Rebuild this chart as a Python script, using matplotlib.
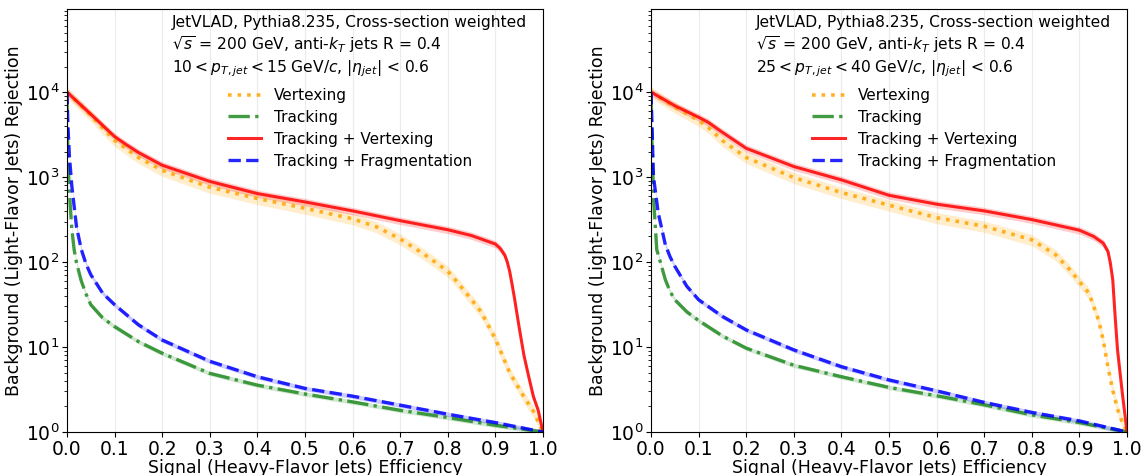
import matplotlib
matplotlib.use("Agg")
import matplotlib.pyplot as plt

plt.rc("font", family="DejaVu Sans", size=12)

# efficiency grids and rejection values, low pT bin (10-15 GeV/c)
lo_eff_vtx = [0.0, 0.05, 0.1, 0.15, 0.2, 0.3, 0.4, 0.5, 0.6, 0.65, 0.7, 0.75, 0.8,
              0.82, 0.85, 0.87, 0.9, 0.93, 0.96, 0.98, 1.0]
lo_vtx = [1e4, 5300, 2700, 1700, 1200, 760, 560, 430, 323, 260, 187, 124, 78,
          58, 36, 26, 12.5, 5.0, 2.6, 1.75, 1.0]

lo_eff_trk = [0.0, 0.001, 0.003, 0.005, 0.01, 0.015, 0.02, 0.03, 0.04, 0.05, 0.075,
              0.1, 0.15, 0.2, 0.3, 0.4, 0.5, 0.6, 0.7, 0.8, 0.9, 1.0]
lo_trk = [1e4, 3000, 1200, 670, 250, 140, 98, 60, 42, 31.5, 22,
          17.4, 11.6, 8.45, 4.9, 3.56, 2.8, 2.26, 1.80, 1.48, 1.2, 1.0]

lo_eff_comb = [0.0, 0.05, 0.1, 0.125, 0.15, 0.2, 0.3, 0.4, 0.5, 0.6, 0.7, 0.8, 0.85,
               0.9, 0.91, 0.92, 0.925, 0.93, 0.935, 0.94, 0.95, 0.96, 0.97, 0.98,
               0.99, 1.0]
lo_comb = [1e4, 5500, 3000, 2400, 1950, 1380, 890, 640, 510, 400, 307, 240, 205,
           163, 145, 120, 100, 78, 55, 38, 17, 8, 4.5, 2.6,
           1.8, 1.0]

lo_eff_frag = [0.0, 0.002, 0.005, 0.01, 0.02, 0.03, 0.04, 0.05, 0.075, 0.1, 0.15,
               0.2, 0.3, 0.4, 0.5, 0.6, 0.7, 0.8, 0.9, 1.0]
lo_frag = [1e4, 4000, 1800, 800, 260, 141, 95, 71, 43, 31.5, 18.3,
           12.1, 6.8, 4.47, 3.26, 2.64, 2.07, 1.62, 1.29, 1.0]

# high pT bin (25-40 GeV/c)
hi_eff_vtx = [0.0, 0.05, 0.1, 0.12, 0.15, 0.2, 0.3, 0.4, 0.5, 0.6, 0.7, 0.8, 0.85,
              0.88, 0.9, 0.92, 0.93, 0.94, 0.95, 0.96, 0.97, 0.98, 0.99, 1.0]
hi_vtx = [1e4, 6650, 4630, 3850, 2690, 1700, 986, 658, 467, 333, 264, 183, 122,
          81, 59, 43, 30, 21, 12, 5.8, 3.1, 1.86, 1.3, 1.0]

hi_eff_trk = [0.0, 0.001, 0.002, 0.005, 0.012, 0.02, 0.03, 0.04, 0.05, 0.075, 0.1,
              0.15, 0.2, 0.3, 0.4, 0.5, 0.6, 0.7, 0.8, 0.9, 1.0]
hi_trk = [1e4, 4000, 2500, 600, 140, 98, 62, 45, 36, 26, 20.5,
          13.5, 9.7, 6.1, 4.47, 3.35, 2.67, 2.09, 1.59, 1.29, 1.0]

hi_eff_comb = [0.0, 0.05, 0.1, 0.12, 0.15, 0.2, 0.3, 0.4, 0.5, 0.6, 0.7, 0.8, 0.9,
               0.93, 0.95, 0.96, 0.965, 0.97, 0.975, 0.98, 0.99, 1.0]
hi_comb = [1e4, 6900, 5060, 4420, 3360, 2180, 1330, 927, 610, 480, 400, 316, 237,
           200, 167, 133, 97, 62, 23, 9.3, 2.9, 1.0]

hi_eff_frag = [0.0, 0.002, 0.005, 0.015, 0.03, 0.04, 0.05, 0.075, 0.1, 0.15, 0.2,
               0.3, 0.4, 0.5, 0.6, 0.7, 0.8, 0.9, 1.0]
hi_frag = [1e4, 4000, 1020, 380, 160, 115, 89, 52, 36, 22.9, 15.9,
           9.25, 5.87, 4.1, 3.05, 2.23, 1.7, 1.35, 1.0]

labels = ["Vertexing", "Tracking", "Tracking + Vertexing", "Tracking + Fragmentation"]
pt_text = [r"$10 < p_{T,jet} < 15$ GeV/$c$, $|\eta_{jet}|$ < 0.6",
           r"$25 < p_{T,jet} < 40$ GeV/$c$, $|\eta_{jet}|$ < 0.6"]

styles = [dict(color="orange", ls=":", lw=2.6, band=0.15),
          dict(color="forestgreen", ls="-.", lw=2.4, band=0.06),
          dict(color="red", ls="-", lw=2.2, band=0.10),
          dict(color="blue", ls="--", lw=2.4, band=0.06)]


def draw_panel(ax, curves, ptlab):
  for (x, y), lab, st in zip(curves, labels, styles):
    lo = [v * (1 - st["band"]) for v in y]
    hi = [v * (1 + st["band"]) for v in y]
    ax.fill_between(x, lo, hi, color=st["color"], alpha=0.2, lw=0)
    ax.plot(x, y, color=st["color"], ls=st["ls"], lw=st["lw"], alpha=0.85,
            label=lab)

  ax.set_yscale("log")
  ax.set_xlim(0, 1)
  ax.set_ylim(1, 9.5e4)
  ax.set_xticks([i / 10 for i in range(11)])
  ax.tick_params(labelsize=13.5, pad=2)
  ax.grid(axis="x", color="0.92", lw=0.8)
  ax.set_axisbelow(True)
  ax.set_xlabel("Signal (Heavy-Flavor Jets) Efficiency", fontsize=12.5, labelpad=0)
  ax.set_ylabel("Background (Light-Flavor Jets) Rejection", fontsize=12.5,
                labelpad=2)

  hdr = dict(transform=ax.transAxes, va="center", ha="left", fontsize=11.2)
  ax.text(0.221, 0.967, "JetVLAD, Pythia8.235, Cross-section weighted", **hdr)
  ax.text(0.221, 0.915, r"$\sqrt{s}$ = 200 GeV, anti-$k_T$ jets R = 0.4", **hdr)
  ax.text(0.221, 0.860, ptlab, **hdr)
  ax.legend(loc="upper left", bbox_to_anchor=(0.325, 0.828), borderaxespad=0,
            frameon=False, fontsize=11, labelspacing=0.45, handlelength=2.2)


fig = plt.figure(figsize=(11.45, 4.75), dpi=100)
ax1 = fig.add_axes([0.0585, 0.0905, 0.4157, 0.8905])
ax2 = fig.add_axes([0.5686, 0.0905, 0.4157, 0.8905])

draw_panel(ax1, [(lo_eff_vtx, lo_vtx), (lo_eff_trk, lo_trk),
                 (lo_eff_comb, lo_comb), (lo_eff_frag, lo_frag)], pt_text[0])
draw_panel(ax2, [(hi_eff_vtx, hi_vtx), (hi_eff_trk, hi_trk),
                 (hi_eff_comb, hi_comb), (hi_eff_frag, hi_frag)], pt_text[1])

fig.savefig("out.png", dpi=100)
plt.close()
